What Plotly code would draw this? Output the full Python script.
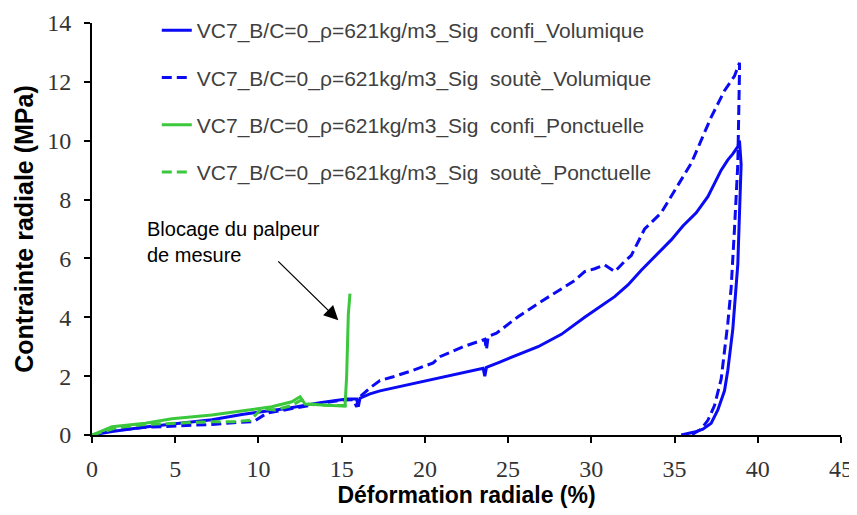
import plotly.graph_objects as go

# values
# Sig confi (solid) and Sig soutè (dashed), Volumique (blue) and Ponctuelle (green)
x_confi_vol = [0, 1.2, 3.2, 5.2, 7.2, 9.0, 10.5, 11.7, 13.7, 15.3, 15.9, 16.0, 16.1, 16.7, 17.3,
               18.5, 20.3, 21.5, 22.5, 23.5, 23.6, 23.7, 24.5, 25.5, 26.8, 28.2, 29.6, 31.4, 32.2,
               33.0, 34.2, 34.8, 35.5, 36.3, 37.0, 37.8, 38.2, 38.5, 38.8, 38.9,
               39.0, 38.9, 38.8, 38.5, 38.2, 38.0, 37.6, 37.2, 36.7, 36.2, 35.4]
y_confi_vol = [0, 0.12, 0.27, 0.4, 0.52, 0.7, 0.82, 0.9, 1.1, 1.22, 1.22, 0.96, 1.25, 1.4, 1.5,
               1.65, 1.87, 2.02, 2.15, 2.27, 2.0, 2.3, 2.48, 2.7, 3.0, 3.42, 4.0, 4.7, 5.1,
               5.6, 6.3, 6.63, 7.1, 7.55, 8.1, 9.0, 9.35, 9.55, 9.8, 10.0,
               9.2, 7.5, 5.8, 3.6, 2.2, 1.5, 0.85, 0.4, 0.2, 0.1, 0.0]

x_soute_vol = [0, 1.2, 3.2, 5.2, 7.2, 8.5, 9.7, 10.5, 11.5, 12.5, 13.7, 15.1, 15.7, 15.9, 16.1,
               16.7, 17.3, 18.1, 19.3, 20.5, 20.9, 22.3, 23.6, 23.7, 23.8, 24.3, 25.6, 26.8, 28.2,
               29.0, 29.6, 30.2, 30.8, 31.4, 32.0, 32.4, 33.2, 34.2, 35.0, 36.0, 37.2, 38.0, 38.6,
               38.9, 38.9, 38.8, 38.6, 38.4, 38.2, 37.8, 37.4, 37.0, 36.6, 36.0]
y_soute_vol = [0, 0.15, 0.26, 0.3, 0.36, 0.42, 0.45, 0.74, 0.85, 0.96, 1.07, 1.19, 1.2, 0.96, 1.3,
               1.6, 1.85, 1.98, 2.2, 2.45, 2.66, 3.0, 3.25, 2.9, 3.35, 3.46, 4.02, 4.47, 4.95,
               5.25, 5.55, 5.65, 5.78, 5.55, 5.9, 6.1, 7.0, 7.55, 8.3, 9.23, 10.8, 11.7, 12.2,
               12.65, 12.3, 9.2, 7.0, 5.0, 3.8, 1.9, 1.0, 0.5, 0.2, 0.0]

x_confi_ponc = [0, 1.2, 3.2, 4.8, 7.2, 9.6, 10.8, 12.0, 12.5, 12.8, 14.0, 15.2, 15.3, 15.4, 15.5]
y_confi_ponc = [0, 0.28, 0.4, 0.55, 0.68, 0.88, 0.96, 1.13, 1.3, 1.05, 1.02, 0.98, 2.0, 4.1, 4.8]

x_soute_ponc = [0, 1.5, 3.0, 5.0, 7.0, 8.5, 9.5, 10.2, 11.0, 12.0, 12.6, 13.0, 14.5, 15.3]
y_soute_ponc = [0, 0.25, 0.35, 0.4, 0.45, 0.45, 0.5, 0.9, 0.85, 1.0, 1.2, 1.05, 1.0, 1.0]

names = ['VC7_B/C=0_ρ=621kg/m3_Sig \u00a0confi_Volumique',
         'VC7_B/C=0_ρ=621kg/m3_Sig \u00a0soutè_Volumique',
         'VC7_B/C=0_ρ=621kg/m3_Sig \u00a0confi_Ponctuelle',
         'VC7_B/C=0_ρ=621kg/m3_Sig \u00a0soutè_Ponctuelle']

blue = '#0A0AF5'
green = '#3CC83C'

series = [(x_confi_vol, y_confi_vol, blue, 'solid'),
          (x_soute_vol, y_soute_vol, blue, '10px,5px'),
          (x_confi_ponc, y_confi_ponc, green, 'solid'),
          (x_soute_ponc, y_soute_ponc, green, '10px,5px')]

fig = go.Figure()
for i, (xs, ys, col, dash) in enumerate(series):
    fig.add_trace(go.Scatter(x=xs, y=ys, mode='lines', name=names[i], legendgroup=str(i),
                             line=dict(color=col, width=3, dash=dash)))

# annotation with arrow
fig.add_annotation(x=14.8, y=3.9, ax=11.1, ay=5.95, xref='x', yref='y', axref='x', ayref='y',
                   text='', showarrow=True, arrowhead=2, arrowsize=2.2, arrowwidth=1.3,
                   arrowcolor='black')
fig.add_annotation(x=3.2, y=7.45, xref='x', yref='y', xanchor='left', yanchor='top',
                   text='Blocage du palpeur<br>de mesure', showarrow=False, align='left',
                   font=dict(family='Liberation Sans, Arial', size=20, color='black'))

axis_common = dict(showline=True, linecolor='black', linewidth=2, ticks='outside',
                   ticklen=6, tickwidth=2, tickcolor='black', showgrid=False, zeroline=False,
                   automargin=False, ticklabeloverflow='allow',
                   tickfont=dict(family='Liberation Serif, Times New Roman', size=24, color='#333333'))

fig.update_xaxes(range=[0, 45], dtick=5, tick0=0, ticklabelstandoff=5,
                 title=dict(text='<b>Déformation radiale (%)</b>', standoff=6,
                            font=dict(family='Liberation Sans Narrow, Arial Narrow, Liberation Sans', size=23, color='black')),
                 **axis_common)
fig.update_yaxes(range=[0, 14], dtick=2, tick0=0, ticklabelstandoff=8,
                 title=dict(text='<b>Contrainte radiale (MPa)</b>', standoff=6,
                            font=dict(family='Liberation Sans Narrow, Arial Narrow, Liberation Sans', size=25, color='black')),
                 **axis_common)

# the page body adds an 8px margin, so the figure is made 8px smaller
fig.update_layout(width=849, height=507, plot_bgcolor='white', paper_bgcolor='white',
                  margin=dict(l=84, r=16, t=15, b=80, autoexpand=False),
                  legend=dict(x=0.0865, y=1.0316, xanchor='left', yanchor='top',
                              tracegroupgap=17, bgcolor='rgba(0,0,0,0)',
                              font=dict(family='Liberation Sans, Arial', size=21, color='#404040')),
                  showlegend=True)

fig.write_html("out.html")
